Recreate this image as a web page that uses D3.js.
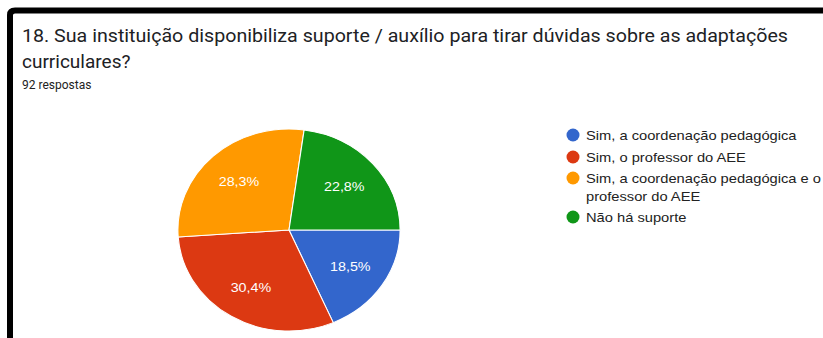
<!DOCTYPE html>
<html>
<head>
<meta charset="utf-8">
<script src="https://cdn.jsdelivr.net/npm/d3@7"></script>
<style>
  body { margin: 0; background: #fff; }
  svg { display: block; }
</style>
</head>
<body>
<div class="chart"></div>
<script>
const categories = [
  "Sim, a coordenação pedagógica",
  "Sim, o professor do AEE",
  "Sim, a coordenação pedagógica e o professor do AEE",
  "Não há suporte"
];
const legendLines = [
  ["Sim, a coordenação pedagógica"],
  ["Sim, o professor do AEE"],
  ["Sim, a coordenação pedagógica e o", "professor do AEE"],
  ["Não há suporte"]
];
const counts = [17, 28, 26, 21];
const colors = ["#3366cc", "#dc3912", "#ff9900", "#109618"];
const titleLines = [
  "18. Sua instituição disponibiliza suporte / auxílio para tirar dúvidas sobre as adaptações",
  "curriculares?"
];
const subtitle = "92 respostas";

const W = 823, H = 338;
const svg = d3.select('.chart').append('svg')
  .attr('width', W).attr('height', H);

// black frame (top + left)
svg.append('path')
  .attr('d', `M10,${H + 5} L10,15 Q10,10.5 15,10.5 L${W + 5},10.5`)
  .attr('fill', 'none')
  .attr('stroke', '#000')
  .attr('stroke-width', 6);

// title
svg.append('text')
  .attr('x', 22).attr('y', 42)
  .attr('font-family', 'Roboto')
  .attr('font-size', 19)
  .attr('fill', '#202124')
  .attr('textLength', 766)
  .attr('lengthAdjust', 'spacingAndGlyphs')
  .text(titleLines[0]);
svg.append('text')
  .attr('x', 22).attr('y', 68)
  .attr('font-family', 'Roboto')
  .attr('font-size', 19)
  .attr('fill', '#202124')
  .text(titleLines[1]);
svg.append('text')
  .attr('x', 22).attr('y', 89)
  .attr('font-family', 'Roboto')
  .attr('font-size', 12)
  .attr('fill', '#222')
  .text(subtitle);

// pie
const cx = 289, cy = 230, R = 101, sx = 1.1;
const total = d3.sum(counts);
const pie = d3.pie().sort(null)
  .startAngle(Math.PI / 2).endAngle(Math.PI / 2 + 2 * Math.PI);
const arcs = pie(counts);
const arc = d3.arc().innerRadius(0).outerRadius(R);
const labelArc = d3.arc().innerRadius(R * 0.66).outerRadius(R * 0.66);

const gPie = svg.append('g')
  .attr('transform', `translate(${cx},${cy}) scale(${sx},1)`);
gPie.selectAll('path')
  .data(arcs)
  .enter()
  .append('path')
  .attr('d', arc)
  .attr('fill', (d, i) => colors[i])
  .attr('stroke', '#fff')
  .attr('stroke-width', 1);

const fmt = d3.format('.1f');
svg.append('g')
  .attr('transform', `translate(${cx},${cy})`)
  .selectAll('text')
  .data(arcs)
  .enter()
  .append('text')
  .attr('dy', '0.35em')
  .attr('text-anchor', 'middle')
  .attr('font-family', 'Liberation Sans, Arial')
  .attr('font-size', 13)
  .attr('fill', '#fff')
  .attr('transform', d => {
    const x = labelArc.centroid(d)[0] * sx, y = labelArc.centroid(d)[1];
    return `translate(${x},${y}) scale(1.1,1)`;
  })
  .text(d => fmt(d.data / total * 100).replace('.', ',') + '%');

// legend
const rowY = [140, 162, 183, 222];
const legend = svg.append('g');
legendLines.forEach((lines, i) => {
  legend.append('circle')
    .attr('cx', 573).attr('cy', rowY[i] - 5)
    .attr('r', 6.5)
    .attr('fill', colors[i]);
  lines.forEach((ln, j) => {
    legend.append('text')
      .attr('transform', `translate(586,${rowY[i] + j * 18}) scale(1.13,1)`)
      .attr('font-family', 'Liberation Sans, Arial')
      .attr('font-size', 13)
      .attr('fill', '#222')
      .text(ln);
  });
});
</script>
</body>
</html>
